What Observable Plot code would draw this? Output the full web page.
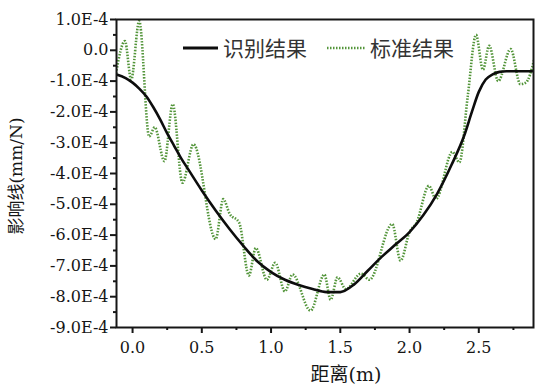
<!DOCTYPE html>
<html><head><meta charset="utf-8">
<script src="https://cdn.jsdelivr.net/npm/d3@7"></script>
<script src="https://cdn.jsdelivr.net/npm/@observablehq/plot@0.6"></script>
<style>
body{margin:0;background:#fff;}
#chart{position:relative;width:540px;height:385px;}
</style>
</head><body><div id="chart"></div>
<script>
// 识别结果 (identified result), x in m, y in mm/N
const identX = [-0.12,-0.05,0.0,0.05,0.1,0.15,0.2,0.25,0.3,0.35,0.4,0.5,0.6,0.7,0.8,0.9,1.0,1.1,1.2,1.3,1.4,1.5,1.6,1.7,1.8,1.9,2.0,2.1,2.2,2.3,2.4,2.45,2.5,2.55,2.6,2.65,2.7,2.9];
const identY = [-0.78e-4,-0.9e-4,-1.05e-4,-1.25e-4,-1.5e-4,-1.85e-4,-2.25e-4,-2.7e-4,-3.1e-4,-3.5e-4,-3.85e-4,-4.55e-4,-5.2e-4,-5.8e-4,-6.35e-4,-6.85e-4,-7.2e-4,-7.45e-4,-7.62e-4,-7.75e-4,-7.85e-4,-7.85e-4,-7.6e-4,-7.15e-4,-6.7e-4,-6.3e-4,-5.9e-4,-5.35e-4,-4.65e-4,-3.75e-4,-2.7e-4,-2.0e-4,-1.35e-4,-0.95e-4,-0.78e-4,-0.7e-4,-0.68e-4,-0.68e-4];
// 标准结果 (standard result)
const stdX = [-0.12,-0.055,-0.01,0.048,0.12,0.16,0.23,0.29,0.36,0.44,0.6,0.655,0.7,0.77,0.84,0.89,0.97,1.03,1.1,1.155,1.285,1.385,1.43,1.48,1.54,1.65,1.71,1.875,1.935,2.0,2.05,2.14,2.19,2.31,2.36,2.42,2.48,2.53,2.575,2.64,2.73,2.8,2.84,2.9];
const stdY = [-0.75e-4,0.3e-4,-0.95e-4,0.95e-4,-2.8e-4,-2.5e-4,-3.6e-4,-1.75e-4,-4.3e-4,-3.05e-4,-6.13e-4,-4.83e-4,-5.3e-4,-5.6e-4,-7.31e-4,-6.42e-4,-7.45e-4,-6.9e-4,-7.83e-4,-7.28e-4,-8.45e-4,-7.28e-4,-8.1e-4,-7.37e-4,-7.75e-4,-7.25e-4,-7.45e-4,-5.64e-4,-6.83e-4,-5.9e-4,-5.6e-4,-4.4e-4,-4.83e-4,-3.3e-4,-3.64e-4,-1.5e-4,0.5e-4,-0.63e-4,0.15e-4,-1.0e-4,0.04e-4,-1.1e-4,-1.05e-4,-0.3e-4];

const seriesNames = ["识别结果", "标准结果"];
const xTicks = [0, 0.5, 1.0, 1.5, 2.0, 2.5];
const xTickLabels = ["0.0", "0.5", "1.0", "1.5", "2.0", "2.5"];
const xMinorTicks = [0.25, 0.75, 1.25, 1.75, 2.25, 2.75];
const yTicks = [1e-4, 0, -1e-4, -2e-4, -3e-4, -4e-4, -5e-4, -6e-4, -7e-4, -8e-4, -9e-4];
const yTickLabels = ["1.0E-4", "0.0", "-1.0E-4", "-2.0E-4", "-3.0E-4", "-4.0E-4", "-5.0E-4", "-6.0E-4", "-7.0E-4", "-8.0E-4", "-9.0E-4"];
const yMinorTicks = [0.5e-4, -0.5e-4, -1.5e-4, -2.5e-4, -3.5e-4, -4.5e-4, -5.5e-4, -6.5e-4, -7.5e-4, -8.5e-4];
const xLabel = "距离(m)";
const yLabel = "影响线(mm/N)";

const ident = identX.map((x, i) => ({x, y: identY[i]}));
const std = stdX.map((x, i) => ({x, y: stdY[i]}));

const GREEN = "#53953a";
const INK = "#161616";
const DASH = "1.5,1.5";
const SERIF = "DejaVu Serif";

const plot = Plot.plot({
  width: 540, height: 385,
  marginLeft: 116, marginRight: 7, marginTop: 19, marginBottom: 58,
  x: {domain: [-0.116, 2.895]},
  y: {domain: [-9e-4, 1e-4]},
  style: {fontSize: "16px", color: INK, background: "#fff", fontFamily: SERIF},
  marks: [
    Plot.line(std, {x: "x", y: "y", stroke: GREEN, strokeWidth: 2.6, strokeDasharray: DASH, strokeLinecap: "butt", curve: "monotone-x", clip: true}),
    Plot.line(ident, {x: "x", y: "y", stroke: "#0d0d0d", strokeWidth: 2.6, curve: "monotone-x", clip: true}),
    Plot.axisX(xTicks, {tickSize: 6, tickPadding: 8, strokeWidth: 2, label: null, tickFormat: d => xTickLabels[xTicks.indexOf(d)]}),
    Plot.axisX(xMinorTicks, {tickSize: 3, strokeWidth: 2, label: null, tickFormat: () => ""}),
    Plot.axisY(yTicks, {tickSize: 6, tickPadding: 2, strokeWidth: 2, label: null, tickFormat: d => yTickLabels[yTicks.indexOf(d)]}),
    Plot.axisY(yMinorTicks, {tickSize: 3, strokeWidth: 2, label: null, tickFormat: () => ""}),
    Plot.frame({stroke: INK, strokeWidth: 2})
  ]
});

document.getElementById("chart").appendChild(plot);
const svg = d3.select(plot);

// axis titles
svg.append("text")
  .attr("transform", "translate(22,176) rotate(-90)")
  .attr("text-anchor", "middle")
  .attr("fill", INK)
  .style("font-family", SERIF + ", Noto Sans CJK SC")
  .style("font-size", "17px")
  .text(yLabel);
svg.append("text")
  .attr("x", 346).attr("y", 381)
  .attr("text-anchor", "middle")
  .attr("fill", INK)
  .style("font-family", SERIF + ", Noto Sans CJK SC")
  .style("font-size", "19px")
  .text(xLabel);

// legend
const lg = svg.append("g").style("font-family", "Noto Sans CJK SC").style("font-size", "21px").attr("text-anchor", "start");
lg.append("line").attr("x1", 183).attr("x2", 218).attr("y1", 48).attr("y2", 48).attr("stroke", "#0d0d0d").attr("stroke-width", 3);
lg.append("text").attr("x", 223).attr("y", 48).attr("dy", "0.36em").attr("fill", "#333").text(seriesNames[0]);
lg.append("line").attr("x1", 327).attr("x2", 365).attr("y1", 48).attr("y2", 48).attr("stroke", GREEN).attr("stroke-width", 2.6).attr("stroke-dasharray", DASH);
lg.append("text").attr("x", 370).attr("y", 48).attr("dy", "0.36em").attr("fill", "#333").text(seriesNames[1]);
</script>
</body></html>
